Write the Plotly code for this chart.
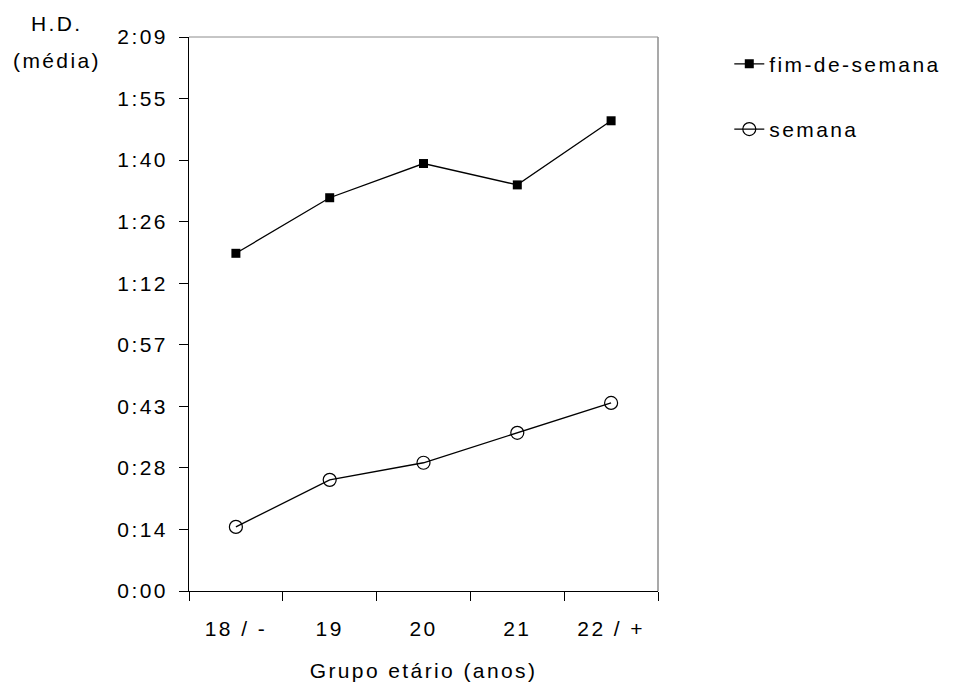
import plotly.graph_objects as go

# Age groups and mean daily hours (minutes) per group
grupos = ["18 / -", "19", "20", "21", "22 / +"]
fim_de_semana = [79, 92, 100, 95, 110]
semana = [15, 26, 30, 37, 44]

# y axis: fractions of a day (0.01 day = 14.4 min) labelled as h:mm
tick_minutes = [0, 14.4, 28.8, 43.2, 57.6, 72.0, 86.4, 100.8, 115.2, 129.6]
tick_labels = ["0:00", "0:14", "0:28", "0:43", "0:57", "1:12", "1:26", "1:40", "1:55", "2:09"]

FONT = "Liberation Sans, Arial, sans-serif"
FS = 21
SP = "letter-spacing:2.4px"


def spaced(s):
    return f'<span style="{SP}">{s}</span>'


fig = go.Figure()
fig.add_trace(go.Scatter(
    x=grupos, y=fim_de_semana, name=spaced("fim-de-semana"),
    mode="lines+markers", legendgroup="a",
    line=dict(color="black", width=1.3),
    marker=dict(symbol="square", size=9, color="black"),
))
fig.add_trace(go.Scatter(
    x=grupos, y=semana, name=spaced("semana"),
    mode="lines+markers", legendgroup="b",
    line=dict(color="black", width=1.3),
    marker=dict(symbol="circle-open", size=13, color="black",
                line=dict(color="black", width=1.2)),
))

fig.update_layout(
    width=956, height=686,
    margin=dict(l=189, r=298, t=37, b=95, autoexpand=False),
    paper_bgcolor="white", plot_bgcolor="white",
    font=dict(family=FONT, size=FS, color="black"),
    showlegend=True,
    legend=dict(
        x=1.152, xanchor="left", y=0.988, yanchor="top",
        font=dict(size=FS), tracegroupgap=35,
        bgcolor="rgba(0,0,0,0)",
    ),
    xaxis=dict(
        type="category", automargin=False,
        tickmode="array", tickvals=grupos,
        ticktext=[spaced(g) for g in grupos],
        tickson="boundaries",
        ticks="outside", ticklen=9, tickcolor="black", tickwidth=1,
        showline=True, linecolor="black", linewidth=1,
        showgrid=False, zeroline=False,
        ticklabelstandoff=19,
        title=dict(text=spaced("Grupo etário (anos)"), standoff=24,
                   font=dict(size=FS)),
        range=[-0.5, 4.5],
    ),
    yaxis=dict(
        range=[0, 129.6], automargin=False,
        tickmode="array", tickvals=tick_minutes,
        ticktext=[spaced(t) for t in tick_labels],
        ticks="outside", ticklen=9, tickcolor="black", tickwidth=1,
        showline=True, linecolor="black", linewidth=1,
        showgrid=False, zeroline=False,
        ticklabelstandoff=7,
    ),
)

# grey frame on the top and right sides of the plot area
fig.add_shape(type="line", xref="paper", yref="paper", x0=0, x1=1, y0=1, y1=1,
              line=dict(color="#8c8c8c", width=1))
fig.add_shape(type="line", xref="paper", yref="paper", x0=1, x1=1, y0=0, y1=1,
              line=dict(color="#8c8c8c", width=1.5))

# y axis title, two lines at the top left
fig.add_annotation(text=spaced("H.D."), xref="paper", yref="paper",
                   x=-0.281, y=1.0235, xanchor="center", yanchor="middle",
                   showarrow=False, font=dict(size=FS))
fig.add_annotation(text=spaced("(média)"), xref="paper", yref="paper",
                   x=-0.281, y=0.957, xanchor="center", yanchor="middle",
                   showarrow=False, font=dict(size=FS))

fig.write_html("out.html")
